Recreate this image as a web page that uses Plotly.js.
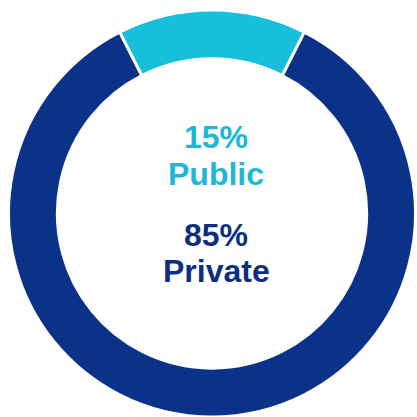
<!DOCTYPE html>
<html>
<head>
<meta charset="utf-8">
<script src="https://cdn.plot.ly/plotly-3.0.1.min.js"></script>
<style>html,body{margin:0;padding:0;background:#fff;}#chart{width:417px;height:417px;}</style>
</head>
<body>
<div id="chart"></div>
<script>
const categories = ["Public", "Private"];
const shares = [15, 85];
const sliceColors = ["#17BFDB", "#0B3289"];
const labelColors = ["#1DB8D7", "#0E2F80"];

const labelFont = (c) => ({family: "Liberation Sans, Arial, sans-serif", size: 32, color: c});
const pctY = [0.672, 0.437];
const nameY = [0.582, 0.351];
const annotations = [];
for (let i = 0; i < categories.length; i++) {
  annotations.push({text: "<b>" + shares[i] + "%</b>", x: 0.518, y: pctY[i], xref: "paper", yref: "paper",
    xanchor: "center", yanchor: "middle", showarrow: false, font: labelFont(labelColors[i])});
  annotations.push({text: "<b>" + categories[i] + "</b>", x: 0.518, y: nameY[i], xref: "paper", yref: "paper",
    xanchor: "center", yanchor: "middle", showarrow: false, font: labelFont(labelColors[i])});
}

Plotly.newPlot("chart", [{
  type: "pie",
  labels: categories,
  values: shares,
  hole: 0.76,
  sort: false,
  direction: "clockwise",
  rotation: -27,
  marker: {colors: sliceColors, line: {color: "#ffffff", width: 3}},
  textinfo: "none",
  hoverinfo: "none",
  domain: {x: [0.0192, 0.9976], y: [0, 0.976]},
  showlegend: false
}], {
  width: 417, height: 417,
  margin: {l: 0, r: 0, t: 0, b: 0},
  paper_bgcolor: "#ffffff",
  showlegend: false,
  annotations: annotations
}, {staticPlot: true, displayModeBar: false});
</script>
</body>
</html>
